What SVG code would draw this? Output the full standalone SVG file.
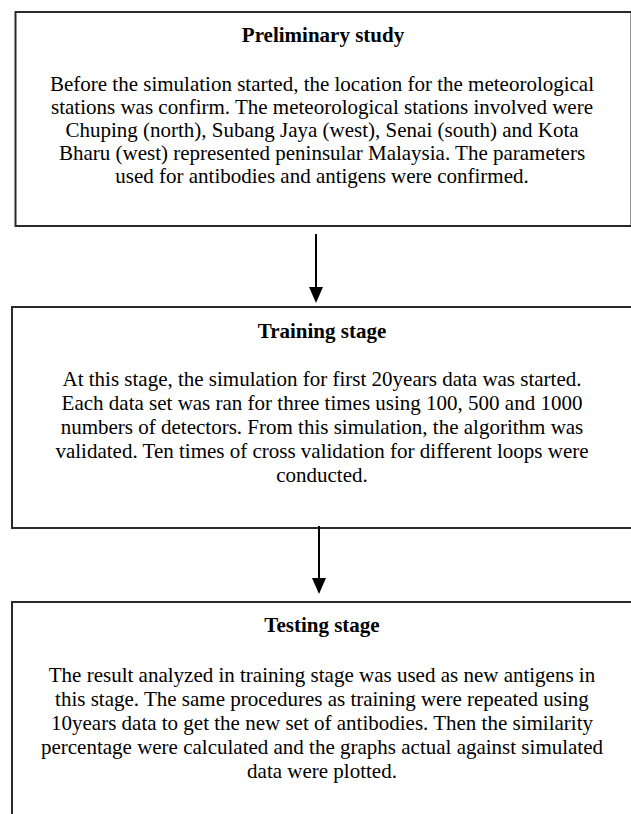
<svg xmlns="http://www.w3.org/2000/svg" width="631" height="814" viewBox="0 0 631 814">
<style>
.box{fill:#fff;stroke:#2a2a2a;stroke-width:2}
.title{font-family:"Liberation Serif","Times New Roman",serif;font-size:21px;font-weight:bold;fill:#000;text-anchor:middle}
.body{font-family:"Liberation Serif","Times New Roman",serif;font-size:21px;fill:#000;text-anchor:middle}
.conn{stroke:#000;stroke-width:2;fill:none}
</style>
<defs>
<marker id="ah" markerUnits="userSpaceOnUse" viewBox="0 0 16 14" markerWidth="16" markerHeight="14" refX="0" refY="7" orient="auto">
<path d="M0,0 L16,7 L0,14 Z" fill="#000"/>
</marker>
</defs>
<rect width="631" height="814" fill="#fff"/>
<g id="preliminary">
<rect class="box" x="15.5" y="12" width="616" height="214"/>
<text class="title" x="323" y="42">Preliminary study</text>
<text class="body" x="322" y="90.5">Before the simulation started, the location for the meteorological</text>
<text class="body" x="322" y="113.7">stations was confirm. The meteorological stations involved were</text>
<text class="body" x="322" y="136.9">Chuping (north), Subang Jaya (west), Senai (south) and Kota</text>
<text class="body" x="322" y="160.1">Bharu (west) represented peninsular Malaysia. The parameters</text>
<text class="body" x="322" y="183.3">used for antibodies and antigens were confirmed.</text>
</g>
<g id="training">
<rect class="box" x="12" y="307" width="620" height="221"/>
<text class="title" x="322" y="338">Training stage</text>
<text class="body" x="322" y="386">At this stage, the simulation for first 20years data was started.</text>
<text class="body" x="322" y="410">Each data set was ran for three times using 100, 500 and 1000</text>
<text class="body" x="322" y="434">numbers of detectors. From this simulation, the algorithm was</text>
<text class="body" x="322" y="458">validated. Ten times of cross validation for different loops were</text>
<text class="body" x="322" y="482">conducted.</text>
</g>
<g id="testing">
<rect class="box" x="12" y="602" width="620" height="230"/>
<text class="title" x="322" y="632">Testing stage</text>
<text class="body" x="322" y="682">The result analyzed in training stage was used as new antigens in</text>
<text class="body" x="322" y="706">this stage. The same procedures as training were repeated using</text>
<text class="body" x="322" y="730">10years data to get the new set of antibodies. Then the similarity</text>
<text class="body" x="322" y="754">percentage were calculated and the graphs actual against simulated</text>
<text class="body" x="322" y="778">data were plotted.</text>
</g>
<g id="connectors">
<line class="conn" x1="316" y1="234" x2="316" y2="287" marker-end="url(#ah)"/>
<line class="conn" x1="319" y1="526" x2="319" y2="578" marker-end="url(#ah)"/>
</g>
</svg>
